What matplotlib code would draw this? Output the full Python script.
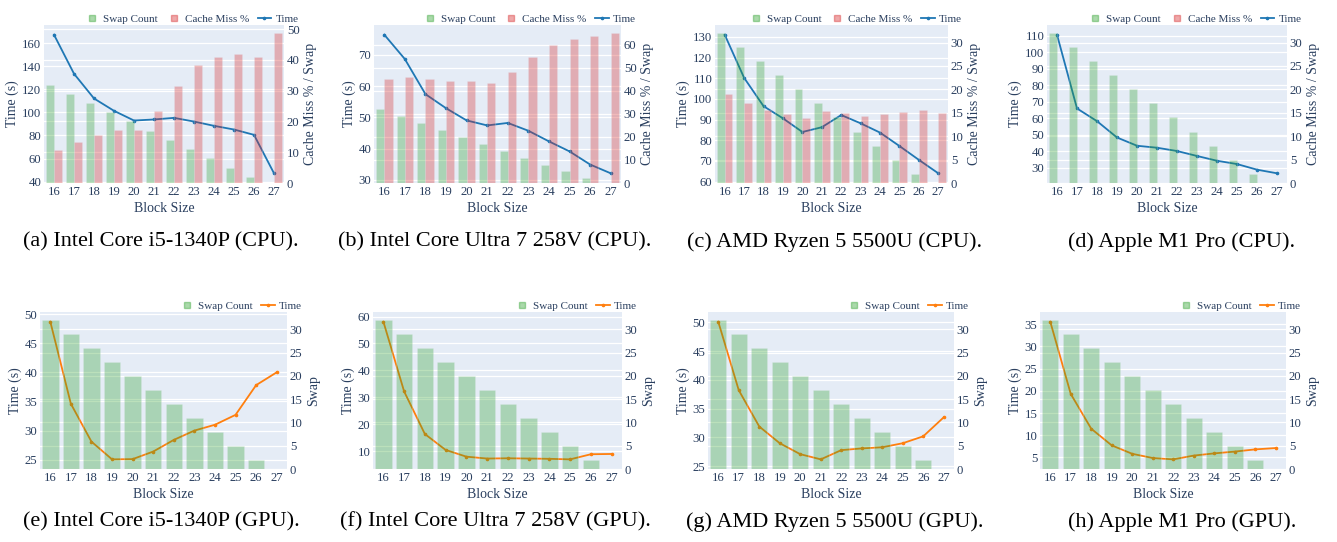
import numpy as np
import matplotlib
matplotlib.use('Agg')
import matplotlib.pyplot as plt
from matplotlib.lines import Line2D
from matplotlib.ticker import MultipleLocator

plt.rcParams['font.family'] = ['Liberation Serif', 'DejaVu Serif']

# ---- data ----
block_sizes = [16, 17, 18, 19, 20, 21, 22, 23, 24, 25, 26, 27]
swap_count = [32, 29, 26, 23, 20, 17, 14, 11, 8, 5, 2, 0]

time_i5_cpu = [167.2, 133.4, 112.0, 101.3, 92.9, 93.8, 95.2, 92.0, 88.3, 85.1, 80.5, 47.2]
miss_i5_cpu = [10.6, 13.3, 15.6, 17.3, 17.3, 23.5, 31.7, 38.4, 40.9, 42.1, 40.9, 48.7]

time_ultra_cpu = [76.4, 68.6, 57.4, 52.9, 49.0, 47.4, 48.2, 45.7, 42.3, 39.1, 34.9, 32.1]
miss_ultra_cpu = [44.9, 45.9, 44.9, 44.3, 44.2, 43.2, 48.3, 54.8, 59.7, 62.5, 63.9, 64.9]

time_ryzen_cpu = [131.1, 110.2, 96.5, 90.6, 84.0, 86.3, 92.2, 88.2, 83.7, 77.2, 70.5, 64.0]
miss_ryzen_cpu = [19.1, 17.0, 15.6, 14.7, 13.9, 15.4, 14.9, 14.4, 14.7, 15.1, 15.6, 15.0]

time_m1_cpu = [110.6, 65.9, 58.2, 48.3, 43.3, 42.1, 40.1, 37.1, 34.2, 32.2, 28.8, 26.6]

time_i5_gpu = [48.7, 34.6, 28.1, 25.06, 25.1, 26.4, 28.4, 30.0, 31.0, 32.7, 37.8, 40.0]
time_ultra_gpu = [58.1, 32.2, 16.4, 10.5, 8.0, 7.3, 7.4, 7.3, 7.2, 7.0, 8.9, 9.0]
time_ryzen_gpu = [50.1, 38.2, 31.9, 29.0, 27.1, 26.2, 27.8, 28.1, 28.3, 29.0, 30.2, 33.5]
time_m1_gpu = [35.6, 19.3, 11.45, 7.7, 5.8, 4.85, 4.55, 5.4, 5.9, 6.3, 6.8, 7.1]

captions = [
    '(a) Intel Core i5-1340P (CPU).', '(b) Intel Core Ultra 7 258V (CPU).',
    '(c) AMD Ryzen 5 5500U (CPU).', '(d) Apple M1 Pro (CPU).',
    '(e) Intel Core i5-1340P (GPU).', '(f) Intel Core Ultra 7 258V (GPU).',
    '(g) AMD Ryzen 5 5500U (GPU).', '(h) Apple M1 Pro (GPU).',
]

# ---- style ----
W, H = 1337, 542
BG = '#E5ECF6'
TXT = '#2a3f5f'
GREEN = '#2ca02c'
RED = '#d62728'
BLUE = '#1f77b4'
ORANGE = '#ff7f0e'
ALPHA = 0.32

panels = [
    # time, miss, kind, pixel box (l, r, top, bottom), left step, right step, caption x
    (time_i5_cpu, miss_i5_cpu, 'cpu', (44, 284, 25, 183), 20, 10, 161),
    (time_ultra_cpu, miss_ultra_cpu, 'cpu', (374, 621, 25, 183), 10, 10, 495),
    (time_ryzen_cpu, miss_ryzen_cpu, 'cpu', (715, 948, 25, 183), 10, 5, 835),
    (time_m1_cpu, None, 'cpu', (1047, 1287, 25, 183), 10, 5, 1182),
    (time_i5_gpu, None, 'gpu', (40, 287, 312, 469), 5, 5, 161),
    (time_ultra_gpu, None, 'gpu', (373, 622, 312, 469), 10, 5, 495),
    (time_ryzen_gpu, None, 'gpu', (708, 954, 312, 469), 5, 5, 835),
    (time_m1_gpu, None, 'gpu', (1040, 1286, 312, 469), 5, 5, 1182),
]

fig = plt.figure(figsize=(W / 100, H / 100), dpi=100)
x = np.arange(len(block_sizes))

for i, (tm, miss, kind, box, lstep, rstep, capx) in enumerate(panels):
    l, r, t, b = box
    ax = fig.add_axes([l / W, 1 - b / H, (r - l) / W, (b - t) / H])
    ax2 = ax.twinx()
    ax.set_facecolor(BG)
    ax2.patch.set_visible(False)
    for a in (ax, ax2):
        for s in a.spines.values():
            s.set_visible(False)
        a.set_axisbelow(True)
        a.grid(axis='y', color='white', linewidth=0.9)
        a.tick_params(length=0, labelsize=9.2, labelcolor=TXT, pad=2)
    ax.grid(axis='x', visible=False)
    ax2.grid(axis='x', visible=False)

    # time line (left scale) drawn under the bars, as in the reference
    line_col = BLUE if kind == 'cpu' else ORANGE
    ax2.plot(x, tm, color=line_col, lw=1.3, marker='o', ms=1.6,
             transform=ax.transData, zorder=2)

    if kind == 'cpu':
        ax2.bar(x - 0.2, swap_count, width=0.4, color=GREEN, alpha=ALPHA,
                edgecolor=BG, linewidth=0.4, zorder=3)
        if miss is not None:
            ax2.bar(x + 0.2, miss, width=0.4, color=RED, alpha=ALPHA,
                    edgecolor=BG, linewidth=0.4, zorder=3)
        rmax = max(swap_count + (miss if miss is not None else []))
        ax2.set_ylabel('Cache Miss % / Swap', fontsize=10, color=TXT, labelpad=3)
    else:
        ax2.bar(x, swap_count, width=0.8, color=GREEN, alpha=ALPHA,
                edgecolor=BG, linewidth=0.4, zorder=3)
        rmax = max(swap_count)
        ax2.set_ylabel('Swap', fontsize=10, color=TXT, labelpad=3)

    lo, hi = min(tm), max(tm)
    pad = 0.07 * (hi - lo)
    ax.set_ylim(lo - pad, hi + pad)
    ax2.set_ylim(0, rmax * 1.055)
    ax.set_xlim(-0.5, len(block_sizes) - 0.5)
    ax.set_xticks(x)
    ax.set_xticklabels([str(v) for v in block_sizes])
    ax.yaxis.set_major_locator(MultipleLocator(lstep))
    ax2.yaxis.set_major_locator(MultipleLocator(rstep))
    ax.set_ylabel('Time (s)', fontsize=10, color=TXT, labelpad=2)
    ax.set_xlabel('Block Size', fontsize=10, color=TXT, labelpad=3)

    # legend above the plot, right aligned
    handles = [Line2D([], [], ls='none', marker='s', ms=4, color=GREEN, alpha=0.4)]
    labels = ['Swap Count']
    if kind == 'cpu':
        handles.append(Line2D([], [], ls='none', marker='s', ms=4, color=RED, alpha=0.4))
        labels.append('Cache Miss %')
    handles.append(Line2D([], [], color=line_col, lw=1.3, marker='o', ms=1.6))
    labels.append('Time')
    ax2.legend(handles, labels, loc='lower right', bbox_to_anchor=(1.07, 0.99),
               ncol=len(labels), frameon=False, fontsize=8.0, labelcolor=TXT,
               handlelength=1.2, handletextpad=0.4, columnspacing=0.8,
               borderaxespad=0.1, borderpad=0.1)

    capy = 242 if i < 4 else 522
    fig.text(capx / W, 1 - capy / H, captions[i], ha='center', va='center',
             fontsize=16, color='black')

fig.savefig('out.png', dpi=100)
